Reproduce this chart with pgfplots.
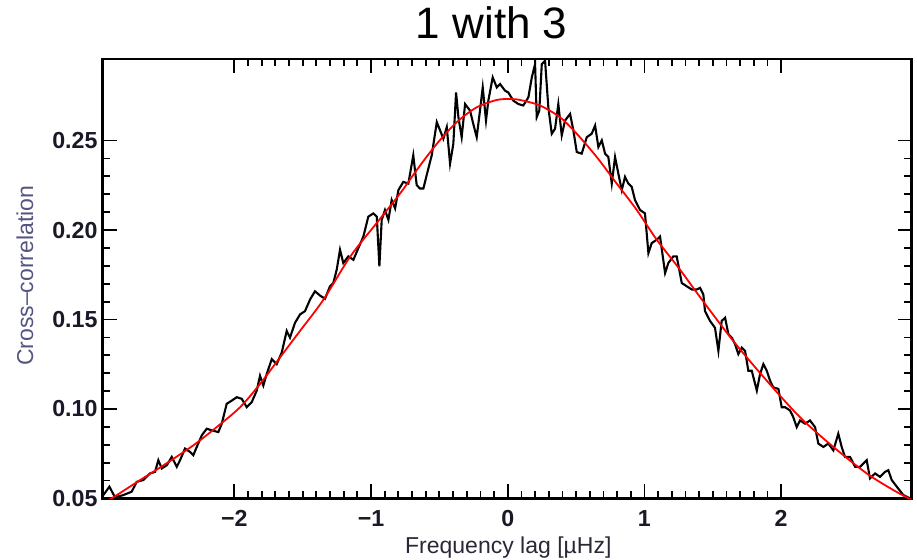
\documentclass[border=0pt]{standalone}
\usepackage{fontspec}
\setmainfont{Liberation Sans}
\usepackage{pgfplots}
\pgfplotsset{compat=1.18}
\definecolor{ylab}{RGB}{85,85,130}
\definecolor{xlab}{RGB}{40,40,55}
\definecolor{tlab}{RGB}{25,25,40}
\begin{document}
\begin{tikzpicture}
\begin{axis}[
    width=404.5pt, height=219.75pt, scale only axis,
    xmin=-2.963, xmax=2.955, ymin=0.05, ymax=0.2956,
    xtick={-2,-1,0,1,2}, xticklabels={−2,−1,0,1,2},
    ytick={0.05,0.10,0.15,0.20,0.25},
    yticklabels={0.05,0.10,0.15,0.20,0.25},
    minor x tick num=9, minor y tick num=4,
    major tick length=7pt, minor tick length=3.6pt,
    tick style={line width=0.9pt, black},
    axis line style={line width=1.2pt},
    tick label style={font=\fontsize{11.6}{12}\selectfont\bfseries, text=tlab},
    xticklabel style={yshift=-2.5pt},
    yticklabel style={xshift=0.9pt},
]
\addplot[black, line width=1.05pt] coordinates {
(-2.958,0.0519) (-2.914,0.0566) (-2.873,0.0507) (-2.812,0.0519) (-2.751,0.0538)
(-2.714,0.0593) (-2.666,0.0603) (-2.617,0.0640) (-2.580,0.0649) (-2.556,0.0714)
(-2.531,0.0668) (-2.494,0.0686) (-2.458,0.0732) (-2.421,0.0677) (-2.397,0.0714)
(-2.361,0.0779) (-2.324,0.0760) (-2.300,0.0742) (-2.275,0.0788) (-2.238,0.0853)
(-2.202,0.0890) (-2.165,0.0881) (-2.117,0.0871) (-2.092,0.0918) (-2.056,0.1029)
(-2.019,0.1047) (-1.982,0.1066) (-1.946,0.1057) (-1.909,0.1010) (-1.873,0.1038)
(-1.836,0.1103) (-1.812,0.1186) (-1.788,0.1131) (-1.763,0.1196) (-1.726,0.1279)
(-1.690,0.1251) (-1.653,0.1316) (-1.617,0.1436) (-1.593,0.1399) (-1.556,0.1482)
(-1.519,0.1529) (-1.483,0.1547) (-1.446,0.1612) (-1.410,0.1658) (-1.373,0.1634)
(-1.337,0.1616) (-1.300,0.1686) (-1.276,0.1704) (-1.251,0.1779) (-1.227,0.1890)
(-1.203,0.1816) (-1.166,0.1853) (-1.129,0.1834) (-1.093,0.1899) (-1.056,0.1964)
(-1.020,0.2075) (-0.983,0.2093) (-0.958,0.2075) (-0.939,0.1797) (-0.922,0.2057)
(-0.898,0.2112) (-0.873,0.2057) (-0.849,0.2168) (-0.824,0.2121) (-0.800,0.2223)
(-0.764,0.2269) (-0.727,0.2260) (-0.691,0.2418) (-0.666,0.2251) (-0.642,0.2232)
(-0.617,0.2232) (-0.593,0.2307) (-0.556,0.2418) (-0.519,0.2603) (-0.495,0.2557)
(-0.471,0.2510) (-0.446,0.2575) (-0.422,0.2371) (-0.398,0.2482) (-0.378,0.2769)
(-0.361,0.2631) (-0.337,0.2519) (-0.312,0.2704) (-0.276,0.2668) (-0.252,0.2593)
(-0.227,0.2519) (-0.203,0.2668) (-0.183,0.2797) (-0.159,0.2612) (-0.142,0.2723)
(-0.110,0.2853) (-0.080,0.2797) (-0.056,0.2816) (-0.020,0.2779) (0.004,0.2769)
(0.041,0.2723) (0.078,0.2704) (0.114,0.2696) (0.151,0.2742) (0.176,0.2853)
(0.200,0.2927) (0.212,0.2631) (0.231,0.2668) (0.249,0.2927) (0.273,0.2946)
(0.297,0.2686) (0.322,0.2538) (0.346,0.2566) (0.370,0.2704) (0.395,0.2529)
(0.419,0.2612) (0.456,0.2649) (0.480,0.2557) (0.505,0.2436) (0.541,0.2427)
(0.578,0.2519) (0.614,0.2538) (0.639,0.2584) (0.663,0.2464) (0.688,0.2501)
(0.712,0.2427) (0.736,0.2408) (0.761,0.2260) (0.785,0.2408) (0.809,0.2316)
(0.834,0.2223) (0.858,0.2297) (0.882,0.2260) (0.907,0.2241) (0.931,0.2168)
(0.968,0.2112) (1.004,0.2093) (1.029,0.1871) (1.053,0.1927) (1.090,0.1946)
(1.114,0.1964) (1.151,0.1760) (1.175,0.1816) (1.211,0.1853) (1.236,0.1853)
(1.273,0.1704) (1.309,0.1686) (1.346,0.1668) (1.383,0.1668) (1.407,0.1677)
(1.431,0.1640) (1.443,0.1547) (1.480,0.1492) (1.516,0.1454) (1.541,0.1325)
(1.565,0.1492) (1.590,0.1510) (1.614,0.1418) (1.639,0.1399) (1.663,0.1362)
(1.687,0.1307) (1.712,0.1343) (1.736,0.1325) (1.760,0.1214) (1.785,0.1214)
(1.822,0.1103) (1.846,0.1196) (1.870,0.1251) (1.895,0.1214) (1.919,0.1158)
(1.943,0.1121) (1.980,0.1112) (2.004,0.1010) (2.029,0.1010) (2.065,0.0992)
(2.089,0.0954) (2.114,0.0899) (2.138,0.0936) (2.175,0.0918) (2.211,0.0936)
(2.248,0.0899) (2.272,0.0807) (2.309,0.0788) (2.345,0.0807) (2.382,0.0769)
(2.418,0.0862) (2.443,0.0788) (2.467,0.0732) (2.504,0.0732) (2.541,0.0677)
(2.577,0.0677) (2.626,0.0714) (2.650,0.0612) (2.687,0.0640) (2.723,0.0621)
(2.760,0.0649) (2.784,0.0658) (2.809,0.0603) (2.846,0.0566) (2.894,0.0519)
(2.943,0.0501)
};
\addplot[red, line width=0.9pt, smooth] coordinates {
(-2.980,0.0475) (-2.909,0.0496) (-2.689,0.0603) (-2.497,0.0696) (-2.300,0.0797)
(-2.129,0.0899) (-1.958,0.1010) (-1.812,0.1140) (-1.666,0.1288) (-1.520,0.1436)
(-1.349,0.1610) (-1.154,0.1850) (-0.958,0.2040) (-0.788,0.2204) (-0.666,0.2335)
(-0.519,0.2482) (-0.373,0.2603) (-0.227,0.2686) (-0.080,0.2727) (0.017,0.2732)
(0.090,0.2727) (0.236,0.2696) (0.383,0.2630) (0.505,0.2538) (0.651,0.2408)
(0.797,0.2260) (0.944,0.2112) (1.090,0.1946) (1.260,0.1779) (1.407,0.1625)
(1.650,0.1380) (1.895,0.1158) (2.138,0.0954) (2.382,0.0788) (2.626,0.0640)
(2.821,0.0547) (2.955,0.0492)
};
\end{axis}
\node[font=\fontsize{22}{26}\selectfont, anchor=base] at (194.5pt,230.1pt) {1 with 3};
\node[font=\fontsize{11.5}{13}\selectfont, anchor=base, text=xlab] at (202.8pt,-27.4pt) {Frequency lag [µHz]};
\node[font=\fontsize{11.5}{13}\selectfont, rotate=90, text=ylab] at (-38.85pt,111.35pt) {Cross–correlation};
\pgfresetboundingbox
\path[use as bounding box] (-51.35pt,-30.75pt) rectangle (407.15pt,249.25pt);
\end{tikzpicture}
\end{document}
